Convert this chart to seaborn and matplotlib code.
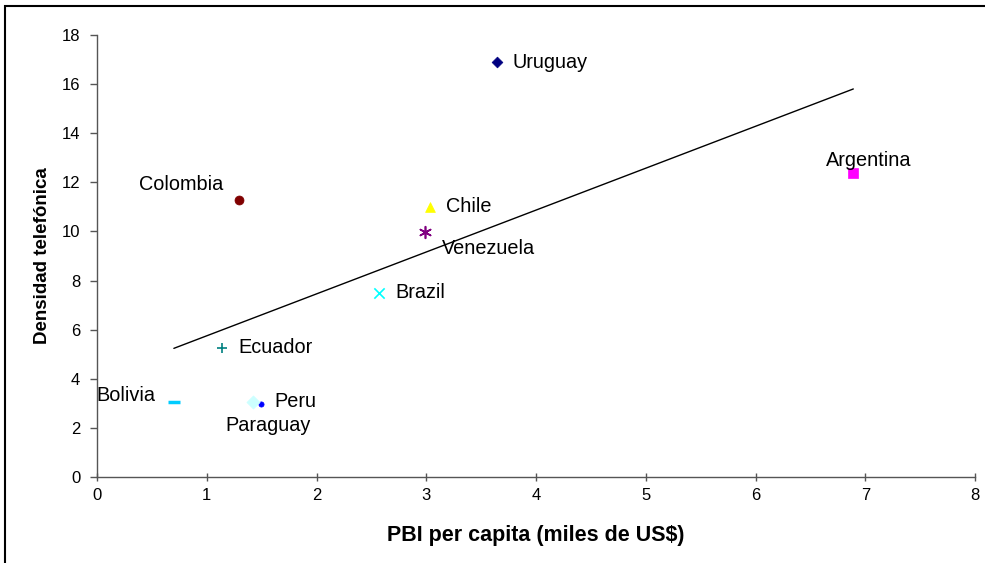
import matplotlib
matplotlib.use("Agg")
import matplotlib.pyplot as plt
from matplotlib.patches import Rectangle
import seaborn as sns
import pandas as pd

# datos
paises = ["Peru", "Paraguay", "Bolivia", "Ecuador", "Brazil", "Venezuela",
          "Chile", "Colombia", "Uruguay", "Argentina"]
pbi = [1.49, 1.42, 0.70, 1.14, 2.57, 2.99, 3.03, 1.29, 3.64, 6.89]
densidad = [2.97, 3.05, 3.05, 5.26, 7.5, 9.98, 11.0, 11.3, 16.9, 12.38]

colores = ["#0000FF", "#CCFFFF", "#00CCFF", "#008080", "#00FFFF", "#800080",
           "#FFFF00", "#800000", "#000080", "#FF00FF"]
marcadores = ["o", "D", "_", "+", "x", (6, 2, 0), "^", "o", "D", "s"]
tamanos = [14, 45, 70, 50, 55, 70, 50, 42, 30, 50]

# posicion de cada etiqueta respecto al punto (pixeles)
offsets = {
    "Peru": (14, 3, "left"), "Paraguay": (-28, -23, "left"),
    "Bolivia": (-18, 7, "right"), "Ecuador": (16, 0, "left"),
    "Brazil": (16, 0, "left"), "Venezuela": (17, -17, "left"),
    "Chile": (16, 0, "left"), "Colombia": (-15, 15, "right"),
    "Uruguay": (16, 0, "left"), "Argentina": (-27, 13, "left"),
}

df = pd.DataFrame({"pais": paises, "pbi": pbi, "densidad": densidad})

sns.set_style("white")
plt.rcParams["font.family"] = ["Liberation Sans", "DejaVu Sans"]
plt.rcParams["text.color"] = "black"
plt.rcParams["axes.labelcolor"] = "black"
plt.rcParams["xtick.color"] = "black"
plt.rcParams["ytick.color"] = "black"

fig = plt.figure(figsize=(9.85, 5.63), dpi=100)
ax = fig.add_axes([0.0985, 0.1527, 0.8915, 0.7851])

# linea de tendencia (regresion lineal)
sns.regplot(x="pbi", y="densidad", data=df, scatter=False, ci=None,
            truncate=True, color="black", line_kws={"linewidth": 1.0}, ax=ax)

for i, row in df.iterrows():
    m = marcadores[i]
    lineart = m in ("+", "x", "_") or isinstance(m, tuple)
    kw = {"linewidth": 2.5 if m == "_" else 1.2} if lineart else {"edgecolor": colores[i], "linewidth": 0.5}
    sns.scatterplot(x=[row.pbi], y=[row.densidad], marker=m, color=colores[i],
                    s=tamanos[i], ax=ax, zorder=3, **kw)
    dx, dy, ha = offsets[row.pais]
    ax.annotate(row.pais, (row.pbi, row.densidad), xytext=(dx, dy),
                textcoords="offset pixels", ha=ha, va="center", fontsize=14.3)

ax.set_xlim(0, 8)
ax.set_ylim(0, 18)
ax.set_xticks(range(0, 9))
ax.set_yticks(range(0, 19, 2))
ax.set_xlabel("PBI per capita (miles de US$)", fontsize=15.5, fontweight="bold", labelpad=16)
ax.set_ylabel("Densidad telefónica", fontsize=13.5, fontweight="bold", labelpad=8)

sns.despine(ax=ax)
for s in ["left", "bottom"]:
    ax.spines[s].set_color("#555555")
    ax.spines[s].set_linewidth(1.0)
ax.tick_params(axis="y", left=True, direction="out", length=5, width=1,
               color="#555555", labelcolor="black", labelsize=12, pad=7)
ax.tick_params(axis="x", bottom=True, direction="inout", length=6, width=1,
               color="#555555", labelcolor="black", labelsize=12, pad=5)

# marco exterior
fig.add_artist(Rectangle((0.005, -0.1), 1.2, 1.1 - 0.0107, transform=fig.transFigure,
                         fill=False, edgecolor="black", linewidth=1.5))

fig.savefig("out.png", dpi=100)
